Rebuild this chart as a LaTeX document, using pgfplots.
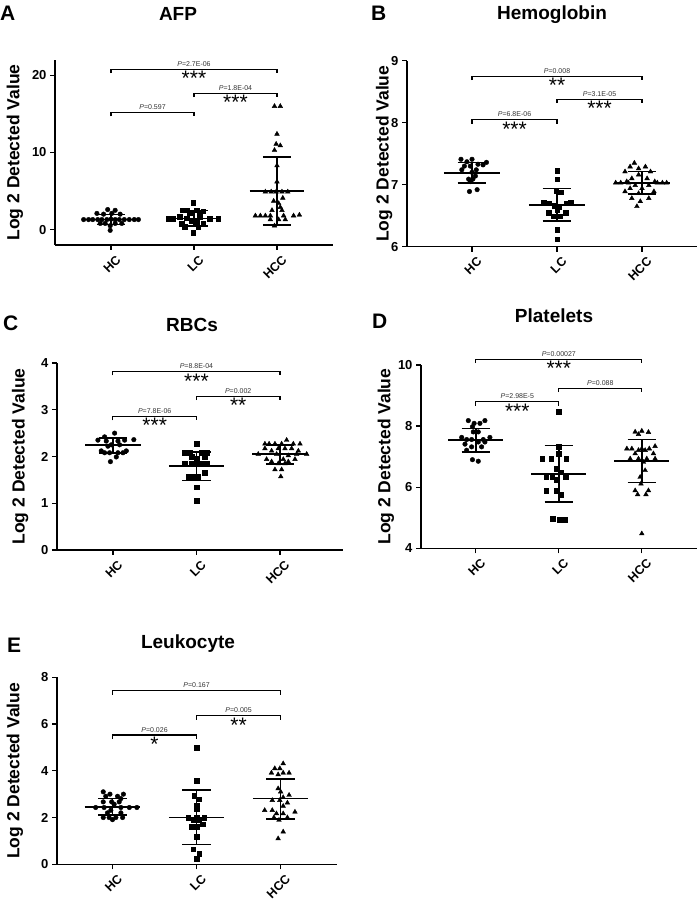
\documentclass[border=0pt]{standalone}
\usepackage{pgfplots}
\pgfplotsset{compat=1.18}
\usepackage{fontspec}
\setmainfont{Liberation Sans}

\newcommand{\pfont}{\fontsize{7}{7}\selectfont}
\newcommand{\sfont}{\fontsize{21}{21}\selectfont}

\pgfplotsset{
  panel/.style={
    scale only axis,
    anchor=south west,
    axis x line*=bottom, axis y line*=left,
    axis line style={line width=1.3pt},
    every tick/.style={black, line width=1.3pt},
    tick align=outside,
    major tick length=5pt,
    xtick={1,2,3}, xticklabels={HC,LC,HCC},
    xticklabel style={rotate=45, anchor=north east, font=\bfseries\fontsize{12.5}{12.5}\selectfont, inner sep=1pt, yshift=-5pt, xshift=1pt},
    yticklabel style={font=\bfseries\fontsize{13}{13}\selectfont},
    /pgf/number format/assume math mode=true,
    ylabel={Log 2 Detected Value},
    ylabel style={font=\bfseries\fontsize{17.5}{17.5}\selectfont, anchor=center},
    clip=false,
  },
  hc/.style={only marks, mark=*, mark size=2.3pt, black},
  lc/.style={only marks, mark=square*, mark size=2.3pt, black},
  hcc/.style={only marks, mark=triangle*, mark size=2.7pt, black},
  stat/.style={black, line width=1.6pt, mark=none},
}

% mean / SD for each category: mean, hi, lo
\newcommand{\statone}[3]{%
 \addplot[stat] coordinates {(0.67,#1) (1.33,#1)};
 \addplot[stat] coordinates {(0.83,#2) (1.17,#2)};
 \addplot[stat] coordinates {(0.83,#3) (1.17,#3)};
 \addplot[stat] coordinates {(1,#2) (1,#3)};}
\newcommand{\stattwo}[3]{%
 \addplot[stat] coordinates {(1.67,#1) (2.33,#1)};
 \addplot[stat] coordinates {(1.83,#2) (2.17,#2)};
 \addplot[stat] coordinates {(1.83,#3) (2.17,#3)};
 \addplot[stat] coordinates {(2,#2) (2,#3)};}
\newcommand{\statthree}[3]{%
 \addplot[stat] coordinates {(2.67,#1) (3.33,#1)};
 \addplot[stat] coordinates {(2.83,#2) (3.17,#2)};
 \addplot[stat] coordinates {(2.83,#3) (3.17,#3)};
 \addplot[stat] coordinates {(3,#2) (3,#3)};}

% bracket: x1 x2 xmid y ptext stars
\newcommand{\brk}[6]{%
 \draw[line width=1.1pt] ([yshift=-4pt]axis cs:#1,#4) -- (axis cs:#1,#4) -- (axis cs:#2,#4) -- ([yshift=-4pt]axis cs:#2,#4);
 \node[anchor=south, inner sep=0pt, yshift=2.5pt, font=\pfont, text=black!80] at (axis cs:#3,#4) {\textit{P}=#5};
 \node[anchor=north, inner sep=0pt, yshift=-2pt, font=\sfont] at (axis cs:#3,#4) {#6};}

\begin{document}
\begin{tikzpicture}
\path[use as bounding box] (0,0) rectangle (698pt,903pt);

% titles and letters
\node[anchor=west, font=\bfseries\fontsize{21}{21}\selectfont, inner sep=0pt] at (0pt,890pt) {A};
\node[font=\bfseries\fontsize{19}{19}\selectfont] at (178pt,889pt) {AFP};
\node[anchor=west, font=\bfseries\fontsize{21}{21}\selectfont, inner sep=0pt] at (371pt,890pt) {B};
\node[font=\bfseries\fontsize{19}{19}\selectfont] at (552pt,888pt) {Hemoglobin};
\node[anchor=west, font=\bfseries\fontsize{21}{21}\selectfont, inner sep=0pt] at (3pt,580pt) {C};
\node[font=\bfseries\fontsize{19}{19}\selectfont] at (192pt,578pt) {RBCs};
\node[anchor=west, font=\bfseries\fontsize{21}{21}\selectfont, inner sep=0pt] at (372pt,582pt) {D};
\node[font=\bfseries\fontsize{19}{19}\selectfont] at (554pt,587pt) {Platelets};
\node[anchor=west, font=\bfseries\fontsize{21}{21}\selectfont, inner sep=0pt] at (7pt,258pt) {E};
\node[font=\bfseries\fontsize{19}{19}\selectfont] at (188pt,259pt) {Leukocyte};

% ---------------- A: AFP
\begin{axis}[panel, at={(55pt,658pt)}, width=278pt, height=185pt,
  xmin=0.325, xmax=3.675, ymin=-2, ymax=22, ytick={0,10,20},
  ylabel style={at={(axis description cs:-0.144,0.5)}}]
\addplot[hc] coordinates {(0.96,2.6) (1.05,2.5) (0.83,2.1) (0.91,2.0) (1.01,2.1) (1.11,2.0) (0.67,1.3) (0.73,1.3) (0.78,1.3) (0.84,1.3) (0.89,1.3) (0.95,1.3) (1.0,1.35) (1.05,1.3) (1.1,1.3) (1.16,1.3) (1.22,1.3) (1.28,1.3) (1.33,1.3) (0.87,0.8) (0.93,0.8) (1.05,0.8) (1.13,0.8) (0.99,0.5) (0.99,-0.1)};
\addplot[lc] coordinates {(1.99,3.5) (1.86,2.5) (1.92,2.5) (2.03,2.5) (2.11,2.4) (1.95,2.2) (2.07,2.1) (1.83,1.7) (2.07,1.7) (1.69,1.4) (1.75,1.4) (1.91,1.5) (2.19,1.4) (2.29,1.45) (1.97,1.1) (2.03,1.0) (1.85,0.8) (2.11,0.8) (1.89,0.35) (2.05,0.3) (1.99,-0.4)};
\addplot[hcc] coordinates {(2.97,16.0) (3.04,16.0) (3.0,12.4) (2.99,11.1) (3.04,10.9) (2.97,10.3) (3.0,8.3) (3.0,6.2) (2.86,4.9) (2.93,4.9) (2.99,4.9) (3.06,4.9) (3.13,4.9) (3.07,4.1) (2.96,3.7) (3.02,3.4) (3.04,2.9) (2.94,2.5) (3.06,2.5) (2.74,1.8) (2.8,1.8) (2.86,1.8) (2.92,1.8) (3.08,1.8) (3.2,1.8) (3.27,1.9) (2.92,1.3) (3.02,1.3) (3.1,1.3) (2.97,0.5)};
\statone{1.3}{1.95}{0.65}
\stattwo{1.43}{2.45}{0.5}
\statthree{5.0}{9.4}{0.57}
\brk{1}{3}{2}{20.8}{2.7E-06}{***}
\brk{2}{3}{2.5}{17.7}{1.8E-04}{***}
\brk{1}{2}{1.5}{15.2}{0.597}{}
\end{axis}

% ---------------- B: Hemoglobin
\begin{axis}[panel, at={(407pt,656.3pt)}, width=290pt, height=186pt,
  xmin=0.235, xmax=3.647, ymin=6, ymax=9, ytick={6,7,8,9},
  ylabel style={at={(axis description cs:-0.079,0.5)}}]
\addplot[hc] coordinates {(0.87,7.41) (1.0,7.41) (0.94,7.37) (1.17,7.36) (1.07,7.33) (1.13,7.32) (0.91,7.3) (0.98,7.3) (0.88,7.24) (1.05,7.24) (1.0,7.2) (1.04,7.14) (0.96,7.09) (1.01,7.09) (0.98,7.05) (1.06,6.92) (0.97,6.89)};
\addplot[lc] coordinates {(2.0,7.23) (2.0,7.09) (1.99,6.9) (2.04,6.88) (1.84,6.71) (1.9,6.7) (2.11,6.7) (2.16,6.71) (1.97,6.66) (2.02,6.64) (2.0,6.6) (1.9,6.55) (2.1,6.55) (1.96,6.49) (2.03,6.49) (2.0,6.27) (2.0,6.12)};
\addplot[hcc] coordinates {(2.91,7.35) (2.86,7.29) (3.04,7.29) (2.96,7.26) (2.8,7.21) (3.1,7.21) (2.96,7.16) (2.88,7.1) (3.06,7.1) (2.82,7.05) (3.15,7.05) (2.69,7.03) (2.75,7.03) (2.84,7.03) (3.18,7.03) (3.24,7.03) (3.29,7.03) (2.92,6.99) (3.08,6.99) (2.86,6.94) (3.0,6.94) (2.8,6.89) (3.14,6.89) (2.96,6.86) (2.88,6.78) (3.08,6.78) (2.98,6.73) (2.94,6.65)};
\statone{7.19}{7.36}{7.03}
\stattwo{6.67}{6.94}{6.41}
\statthree{7.03}{7.21}{6.85}
\brk{1}{3}{2}{8.75}{0.008}{**}
\brk{2}{3}{2.5}{8.38}{3.1E-05}{***}
\brk{1}{2}{1.5}{8.05}{6.8E-06}{***}
\end{axis}

% ---------------- C: RBCs
\begin{axis}[panel, at={(57pt,353pt)}, width=286pt, height=187pt,
  xmin=0.33, xmax=3.755, ymin=0, ymax=4, ytick={0,1,2,3,4},
  ylabel style={at={(axis description cs:-0.129,0.5)}}]
\addplot[hc] coordinates {(1.02,2.5) (0.9,2.42) (0.82,2.35) (1.14,2.35) (1.25,2.36) (0.92,2.33) (1.06,2.33) (0.98,2.25) (1.08,2.25) (0.94,2.22) (0.86,2.12) (1.16,2.12) (0.9,2.08) (0.96,2.08) (1.06,2.08) (1.12,2.08) (1.04,1.99) (0.97,1.89)};
\addplot[lc] coordinates {(2.0,2.27) (1.86,2.08) (1.92,2.08) (2.06,2.08) (2.12,2.08) (1.94,1.99) (2.1,1.99) (2.0,1.96) (1.86,1.85) (1.94,1.85) (2.0,1.85) (2.07,1.85) (2.13,1.85) (2.1,1.65) (1.9,1.57) (1.97,1.57) (2.02,1.57) (2.0,1.34) (2.0,1.05)};
\addplot[hcc] coordinates {(3.08,2.35) (2.82,2.27) (2.87,2.27) (2.94,2.27) (3.02,2.27) (3.16,2.27) (3.24,2.27) (2.82,2.17) (2.98,2.17) (3.06,2.17) (3.14,2.17) (2.9,2.12) (3.22,2.12) (2.74,2.05) (2.96,2.05) (3.2,2.05) (3.32,2.05) (3.1,2.02) (2.84,1.94) (3.04,1.94) (3.18,1.94) (2.9,1.89) (3.1,1.89) (2.98,1.85) (3.06,1.85) (2.94,1.72) (3.02,1.72) (3.01,1.57)};
\statone{2.24}{2.39}{2.07}
\stattwo{1.8}{2.09}{1.49}
\statthree{2.05}{2.25}{1.84}
\brk{1}{3}{2}{3.82}{8.8E-04}{***}
\brk{2}{3}{2.5}{3.29}{0.002}{**}
\brk{1}{2}{1.5}{2.86}{7.8E-06}{***}
\end{axis}

% ---------------- D: Platelets
\begin{axis}[panel, at={(421pt,354.7pt)}, width=276pt, height=183.3pt,
  xmin=0.34, xmax=3.665, ymin=4, ymax=10, ytick={4,6,8,10},
  ylabel style={at={(axis description cs:-0.127,0.5)}}]
\addplot[hc] coordinates {(0.91,8.18) (1.11,8.18) (0.98,8.09) (1.05,8.09) (0.96,7.98) (0.97,7.81) (1.03,7.81) (0.83,7.63) (1.17,7.63) (0.89,7.56) (0.95,7.56) (1.09,7.56) (1.03,7.48) (1.11,7.48) (0.87,7.41) (0.95,7.32) (1.07,7.32) (0.89,7.21) (0.96,6.9) (1.03,6.85)};
\addplot[lc] coordinates {(2.0,8.47) (2.0,7.32) (2.0,7.1) (1.8,6.93) (1.91,6.93) (2.09,6.93) (1.97,6.6) (2.02,6.49) (1.85,6.35) (1.92,6.35) (2.08,6.35) (1.97,6.24) (1.85,5.89) (1.97,5.89) (2.03,5.75) (1.93,4.96) (2.01,4.93) (2.07,4.93)};
\addplot[hcc] coordinates {(2.92,7.81) (3.0,7.84) (3.08,7.8) (2.96,7.73) (3.16,7.34) (2.82,7.26) (2.88,7.26) (3.0,7.26) (3.09,7.26) (2.96,7.21) (3.04,7.21) (2.92,7.1) (3.14,7.1) (2.86,6.93) (2.96,6.93) (3.06,6.93) (3.16,6.93) (3.02,6.82) (3.04,6.55) (2.98,6.33) (2.99,6.11) (2.92,5.89) (3.08,5.89) (2.95,5.76) (3.05,5.76) (3.0,4.48)};
\statone{7.54}{7.92}{7.15}
\stattwo{6.44}{7.37}{5.51}
\statthree{6.85}{7.56}{6.15}
\brk{1}{3}{2}{10.19}{0.00027}{***}
\brk{2}{3}{2.5}{9.24}{0.088}{}
\brk{1}{2}{1.5}{8.8}{2.98E-5}{***}
\end{axis}

% ---------------- E: Leukocyte
\begin{axis}[panel, at={(57pt,38.7pt)}, width=280pt, height=187pt,
  xmin=0.34, xmax=3.67, ymin=0, ymax=8, ytick={0,2,4,6,8},
  ylabel style={at={(axis description cs:-0.15,0.5)}}]
\addplot[hc] coordinates {(0.89,3.1) (0.97,3.0) (1.13,3.0) (0.92,2.91) (1.06,2.91) (1.1,2.81) (0.89,2.67) (0.99,2.67) (1.08,2.67) (1.02,2.57) (0.8,2.43) (0.9,2.43) (1.1,2.43) (1.2,2.43) (1.29,2.43) (0.98,2.31) (0.94,2.2) (1.1,2.2) (0.89,2.0) (0.96,2.0) (1.04,2.0) (1.12,2.0) (1.0,1.91)};
\addplot[lc] coordinates {(2.0,5.0) (2.0,3.57) (1.97,2.93) (2.03,2.79) (2.0,2.53) (2.0,2.39) (1.9,2.0) (2.0,2.0) (2.09,2.0) (1.96,1.91) (2.03,1.91) (2.07,1.71) (1.94,1.6) (2.0,1.6) (2.0,1.17) (1.96,0.64) (2.03,0.46) (2.0,0.24)};
\addplot[hcc] coordinates {(3.03,4.31) (2.93,4.1) (2.99,4.1) (2.89,3.91) (3.03,3.91) (3.1,3.91) (2.97,3.84) (2.97,3.24) (3.0,3.1) (3.1,2.96) (3.03,2.86) (2.9,2.74) (2.99,2.74) (3.08,2.63) (3.03,2.49) (2.81,2.31) (2.9,2.31) (3.17,2.24) (2.95,2.17) (3.03,2.17) (2.92,2.0) (3.08,2.0) (2.98,1.89) (3.03,1.39) (2.97,1.1)};
\statone{2.46}{2.81}{2.11}
\stattwo{2.0}{3.17}{0.84}
\statthree{2.81}{3.66}{1.94}
\brk{1}{3}{2}{7.43}{0.167}{}
\brk{2}{3}{2.5}{6.36}{0.005}{**}
\brk{1}{2}{1.5}{5.53}{0.026}{*}
\end{axis}
\end{tikzpicture}
\end{document}
